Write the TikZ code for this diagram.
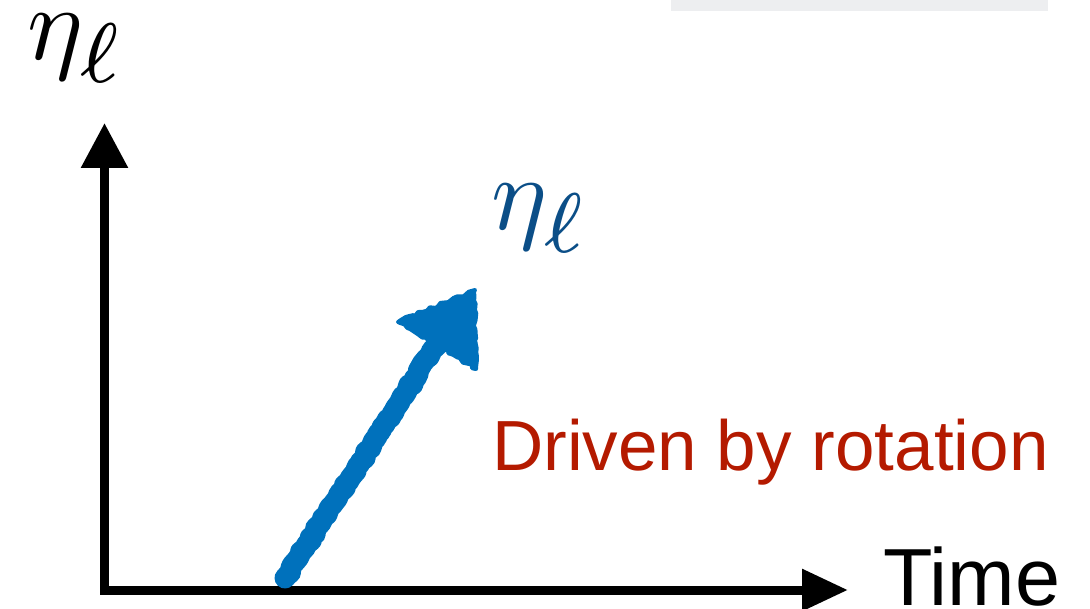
\documentclass[tikz,border=0pt]{standalone}
\usepackage{fontspec}
\newfontfamily\labelfont{Liberation Sans}
\usetikzlibrary{arrows.meta,decorations.pathmorphing}
\definecolor{axisgray}{HTML}{EDEEF0}
\definecolor{rotred}{RGB}{180,26,0}
\definecolor{sketchblue}{RGB}{0,113,188}
\definecolor{mathblue}{RGB}{11,78,135}
\newcommand{\etaell}{$\eta_{\scalebox{1.15}{$\scriptstyle\ell$}}$}
\tikzset{
  axisline/.style={line width=9pt, line join=miter,
    {Triangle[length=45pt,width=45pt]}-{Triangle[length=46pt,width=40pt]}},
  mathlabel/.style={inner sep=0pt, anchor=base west, scale=10.5, font=\fontsize{10}{12}\selectfont},
  sanslabel/.style={inner sep=0pt, anchor=base west},
  sketch/.style={sketchblue, line width=21pt, line cap=round, line join=round,
    decorate, decoration={random steps, segment length=4pt, amplitude=1.8pt}},
  sketchhead/.style={fill=sketchblue, draw=sketchblue, line width=4pt, line join=round,
    decorate, decoration={random steps, segment length=4pt, amplitude=1.8pt}}
}
\begin{document}
\begin{tikzpicture}[x=1pt,y=-1pt]
\useasboundingbox (0,0) rectangle (1090,609);
% grey strip at top
\fill[axisgray] (671,0) rectangle (1048,11);
% axes
\coordinate (ytip) at (104.5,123);
\coordinate (xtip) at (848,590);
\draw[axisline] (ytip) |- (xtip);
% labels
\node[mathlabel] (yl) at (25,60) {\etaell};
\node[mathlabel, text=mathblue] (bl) at (489,230) {\etaell};
\node[sanslabel, font=\labelfont\fontsize{81}{90}\selectfont] (time) at (883,605) {Time};
\node[sanslabel, text=rotred, font=\labelfont\fontsize{71}{80}\selectfont] (rot) at (492,471) {Driven by rotation};
% sketchy arrow
\coordinate (s0) at (285,578);
\coordinate (s1) at (445,332);
\coordinate (h1) at (475,290);
\coordinate (h2) at (398,322);
\coordinate (h3) at (476,369);
\draw[sketch] (s0) -- (s1);
\draw[sketchhead] (h1) -- (h2) -- (h3) -- cycle;
\end{tikzpicture}
\end{document}
